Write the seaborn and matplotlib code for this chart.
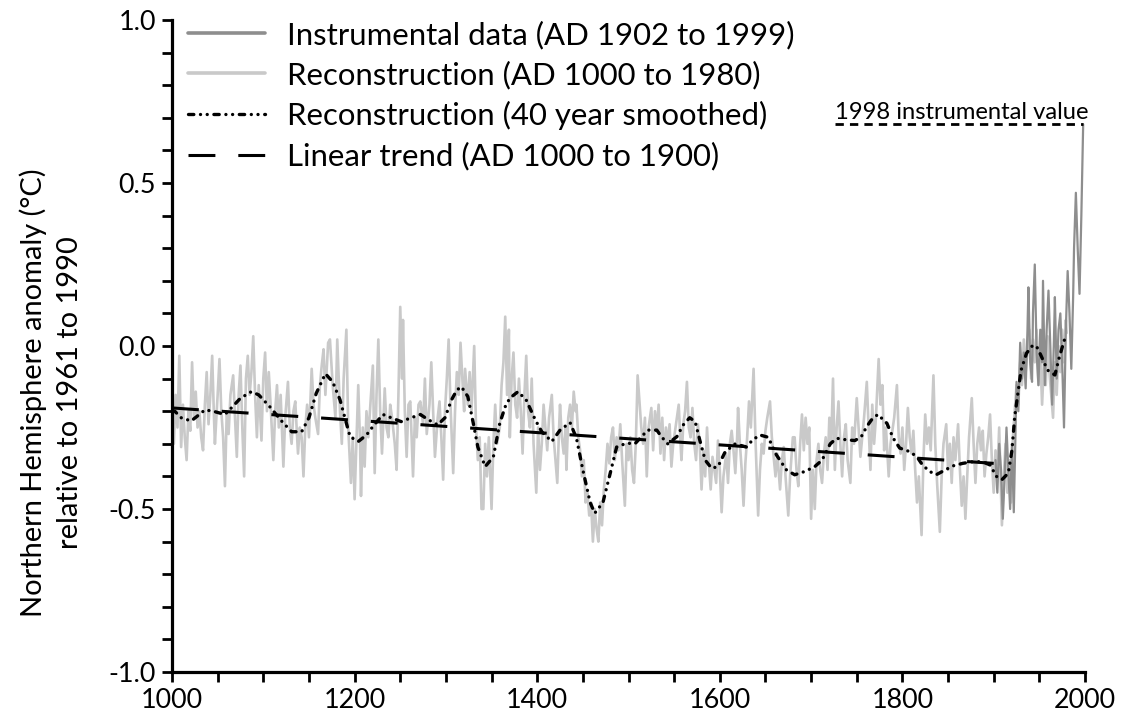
import matplotlib
matplotlib.use("Agg")
import matplotlib.pyplot as plt
import seaborn as sns
from matplotlib.ticker import MultipleLocator, FuncFormatter

# ---------------- data ----------------
years_a = [1000,1002,1004,1006,1008,1010,1012,1014,1016,1018,
           1020,1022,1024,1026,1028,1030,1032,1034,1036,1038,
           1040,1042,1044,1046,1047,1050,1052,1054,1056,1058,
           1060,1062,1064,1067,1069,1071,1073,1075,1077,1079,
           1081,1083,1085,1087,1089,1091,1093,1095,1098,1100,
           1102,1104,1106,1108,1111,1113,1115,1117,1119,1122,
           1124,1127,1129,1131,1133,1135,1138,1140,1142,1144,
           1146,1148,1150,1153,1155,1157,1160,1162,1164,1166,
           1168,1171]
vals_a = [-0.22,-0.30,-0.15,-0.25,-0.03,-0.31,-0.18,-0.28,-0.35,-0.20,
          -0.26,-0.05,-0.22,-0.14,-0.25,-0.20,-0.28,-0.32,-0.18,-0.08,
          -0.24,-0.15,-0.03,-0.22,-0.30,-0.15,-0.04,-0.20,-0.28,-0.43,
          -0.20,-0.27,-0.15,-0.09,-0.22,-0.34,-0.15,-0.06,-0.25,-0.40,
          -0.10,-0.03,-0.15,-0.08,0.03,-0.15,-0.28,-0.12,-0.29,-0.10,
          -0.02,-0.20,-0.08,-0.18,-0.35,-0.20,-0.12,-0.25,-0.15,-0.37,
          -0.22,-0.11,-0.25,-0.30,-0.20,-0.17,-0.33,-0.25,-0.28,-0.40,
          -0.25,-0.18,-0.28,-0.07,-0.18,-0.22,-0.27,-0.12,-0.06,-0.01,
          -0.15,0.01]

years_b = [1173,1176,1179,1181,1184,1186,1188,1191,1193,1196,
           1198,1200,1202,1204,1206,1207,1209,1211,1213,1215,
           1218,1220,1222,1224,1226,1228,1230,1233,1235,1237,
           1239,1241,1244,1246,1248,1250,1252,1253,1255,1257,
           1259,1261,1264,1266,1268,1270,1272,1275,1277,1279,
           1282,1284,1286,1288,1291,1293,1295,1297,1299,1301,
           1303,1305,1308,1310,1312,1314,1316,1318,1320,1321,
           1324,1326,1328,1331,1333,1335,1337,1339]
vals_b = [0.02,-0.12,-0.22,0.02,-0.20,-0.30,-0.10,0.05,-0.25,-0.42,
          -0.28,-0.47,-0.30,-0.12,-0.30,-0.46,-0.25,-0.37,-0.20,-0.28,
          -0.15,-0.06,-0.39,-0.15,0.02,-0.20,-0.33,-0.13,-0.25,-0.28,
          -0.18,-0.22,-0.30,-0.38,-0.15,0.12,-0.10,0.08,-0.20,-0.34,
          -0.18,-0.17,-0.40,-0.22,-0.28,-0.18,-0.17,-0.24,-0.10,-0.27,
          -0.18,-0.05,-0.20,-0.34,-0.22,-0.17,-0.28,-0.41,-0.20,-0.10,
          0.02,-0.18,-0.39,-0.20,-0.08,-0.15,0.01,-0.10,-0.20,-0.07,
          -0.18,-0.08,-0.20,0.00,-0.25,-0.35,-0.28,-0.50]

years_c = [1341,1343,1345,1347,1350,1352,1354,1356,1359,1361,
           1363,1365,1367,1369,1370,1372,1374,1376,1378,1380,
           1382,1384,1386,1388,1390,1392,1394,1396,1399,1401,
           1403,1405,1407,1409,1411,1413,1416,1418,1420,1422,
           1424,1425,1427,1429,1431,1432,1434,1436,1438,1440,
           1442,1443,1445,1447,1449,1451,1453,1455,1457,1459,
           1461,1463,1465,1467,1469,1471,1473,1475,1477,1479,
           1481,1483,1485,1487,1489,1491,1493,1496,1498,1500,
           1502,1504,1506,1508,1510]
vals_c = [-0.50,-0.30,-0.40,-0.28,-0.50,-0.30,-0.18,-0.30,-0.25,-0.12,
          -0.05,0.09,-0.15,0.05,-0.28,-0.10,-0.02,-0.18,-0.22,-0.10,
          -0.20,-0.33,-0.15,-0.03,-0.20,-0.25,-0.10,-0.30,-0.45,-0.25,
          -0.38,-0.30,-0.18,-0.25,-0.32,-0.22,-0.15,-0.28,-0.35,-0.42,
          -0.25,-0.18,-0.28,-0.33,-0.25,-0.38,-0.22,-0.18,-0.25,-0.14,
          -0.20,-0.18,-0.28,-0.32,-0.40,-0.35,-0.48,-0.45,-0.52,-0.48,
          -0.60,-0.50,-0.56,-0.60,-0.48,-0.55,-0.44,-0.38,-0.30,-0.36,
          -0.28,-0.25,-0.35,-0.28,-0.32,-0.24,-0.35,-0.49,-0.30,-0.35,
          -0.28,-0.38,-0.42,-0.30,-0.09]

years_d = [1514,1516,1518,1520,1522,1525,1527,1529,1531,1533,
           1535,1537,1539,1541,1543,1545,1547,1549,1551,1553,
           1555,1557,1558,1560,1562,1564,1566,1568,1570,1572,
           1574,1576,1578,1580,1582,1584,1586,1588,1590,1592,
           1594,1596,1598,1600,1602,1604,1607,1609,1611,1613,
           1615,1617,1619,1620,1622,1624,1626,1628,1630,1632,
           1634,1637,1639,1642,1644,1646,1648,1650,1652,1655,
           1657,1659,1661,1663,1666,1668,1670,1672,1675,1677,
           1680]
vals_d = [-0.25,-0.30,-0.22,-0.40,-0.25,-0.19,-0.32,-0.20,-0.26,-0.18,
          -0.33,-0.22,-0.35,-0.25,-0.30,-0.24,-0.37,-0.30,-0.26,-0.22,
          -0.18,-0.30,-0.35,-0.24,-0.20,-0.11,-0.25,-0.28,-0.19,-0.30,
          -0.35,-0.24,-0.30,-0.44,-0.32,-0.40,-0.25,-0.36,-0.44,-0.34,
          -0.38,-0.42,-0.29,-0.38,-0.51,-0.40,-0.33,-0.42,-0.30,-0.26,
          -0.32,-0.39,-0.28,-0.19,-0.30,-0.38,-0.49,-0.36,-0.28,-0.17,
          -0.25,-0.07,-0.28,-0.52,-0.38,-0.30,-0.33,-0.26,-0.22,-0.17,
          -0.28,-0.34,-0.40,-0.33,-0.44,-0.35,-0.31,-0.40,-0.52,-0.40,
          -0.28]

years_e = [1682,1684,1686,1688,1690,1692,1694,1696,1698,1700,
           1702,1704,1706,1708,1710,1712,1714,1716,1718,1720,
           1722,1724,1726,1728,1730,1732,1734,1736,1738,1740,
           1743,1745,1747,1750,1752,1754,1756,1758,1761,1763,
           1765,1767,1769,1771,1774,1776,1778,1780,1782,1785,
           1787,1789,1791,1794,1796,1798,1800,1802,1804,1806,
           1808,1810,1812,1814,1816,1818,1821,1823,1825,1827,
           1829,1831,1834,1836,1838,1841,1843,1845]
vals_e = [-0.28,-0.38,-0.43,-0.30,-0.21,-0.32,-0.22,-0.30,-0.25,-0.53,
          -0.38,-0.50,-0.35,-0.30,-0.38,-0.42,-0.33,-0.28,-0.38,-0.22,
          -0.30,-0.10,-0.38,-0.25,-0.17,-0.30,-0.40,-0.28,-0.24,-0.35,
          -0.42,-0.25,-0.30,-0.16,-0.25,-0.34,-0.28,-0.22,-0.11,-0.25,
          -0.38,-0.18,-0.30,-0.22,-0.04,-0.18,-0.12,-0.32,-0.25,-0.40,
          -0.30,-0.26,-0.22,-0.12,-0.28,-0.33,-0.25,-0.38,-0.30,-0.19,
          -0.28,-0.33,-0.26,-0.38,-0.48,-0.40,-0.58,-0.35,-0.21,-0.30,
          -0.25,-0.32,-0.09,-0.30,-0.42,-0.57,-0.40,-0.30]

years_f = [1848,1850,1852,1854,1856,1858,1861,1863,1865,1867,
           1869,1871,1873,1876,1878,1880,1882,1884,1886,1888,
           1890,1892,1894,1896,1898,1900,1902,1904,1906,1909,
           1911,1913,1915,1917,1919,1921,1923,1925,1927,1929,
           1931,1933,1935,1937,1939,1941,1943,1945,1947,1949,
           1951,1953,1955,1957,1959,1961,1963,1965,1967,1969,
           1971,1973,1975,1977,1979,1980]
vals_f = [-0.24,-0.38,-0.30,-0.42,-0.28,-0.35,-0.24,-0.38,-0.49,-0.40,
          -0.53,-0.40,-0.28,-0.16,-0.30,-0.42,-0.30,-0.25,-0.32,-0.26,
          -0.40,-0.33,-0.28,-0.21,-0.35,-0.45,-0.32,-0.40,-0.25,-0.55,
          -0.40,-0.30,-0.45,-0.35,-0.48,-0.28,-0.20,-0.12,-0.18,-0.05,
          -0.12,0.02,-0.08,-0.02,0.05,-0.10,0.02,-0.05,0.05,-0.12,
          -0.02,-0.18,-0.05,-0.12,0.03,-0.08,-0.15,-0.22,-0.05,-0.15,
          0.00,-0.08,0.05,-0.05,0.08,0.04]

instr_years = [1902,1904,1906,1908,1910,1912,1914,1916,1918,1920,
               1922,1924,1925,1927,1929,1931,1933,1935,1937,1938,
               1940,1942,1943,1945,1947,1949,1951,1953,1954,1956,
               1958,1960,1962,1964,1966,1967,1969,1971,1973,1975,
               1977,1979,1981,1983,1985,1987,1988,1990,1992,1994,
               1996,1998]
instr_vals = [-0.35,-0.45,-0.30,-0.38,-0.53,-0.40,-0.25,-0.38,-0.50,-0.30,
              -0.51,-0.25,-0.11,-0.20,0.01,-0.10,-0.02,-0.13,0.05,0.18,
              -0.05,-0.11,0.10,0.25,-0.02,-0.12,0.05,-0.05,0.20,-0.12,
              0.05,0.17,0.00,-0.18,0.02,0.15,-0.10,0.05,0.10,-0.05,
              -0.25,0.05,0.23,0.10,-0.07,0.15,0.30,0.47,0.30,0.16,
              0.40,0.68]

smooth_years = [1000,1003,1010,1021,1030,1036,1045,1058,1065,1075,
                1087,1095,1107,1120,1131,1142,1150,1158,1168,1176,
                1184,1195,1204,1213,1220,1231,1240,1251,1262,1272,
                1280,1291,1299,1306,1312,1317,1324,1330,1335,1343,
                1352,1359,1365,1370,1379,1388,1398,1405,1416,1425,
                1436,1443,1450,1458,1463,1472,1480,1487,1498,1507,
                1521,1531,1536,1543,1553,1560,1567,1573,1578,1584,
                1591,1598,1606,1617,1629,1636,1644,1653,1662,1673,
                1682,1693,1704,1712,1721,1728,1739,1748,1755,1761,
                1766,1773,1783,1790,1797,1808,1816,1822,1830,1837,
                1847,1855,1866,1877,1888,1896,1903,1909,1916,1920,
                1923,1927,1930,1936,1943,1948,1954,1959,1967,1972,
                1978,1980]
smooth_vals = [-0.20,-0.20,-0.22,-0.23,-0.21,-0.196,-0.20,-0.21,-0.19,-0.16,
               -0.14,-0.15,-0.186,-0.23,-0.263,-0.263,-0.22,-0.145,-0.085,-0.11,
               -0.165,-0.278,-0.293,-0.273,-0.247,-0.21,-0.22,-0.232,-0.22,-0.21,
               -0.225,-0.242,-0.22,-0.166,-0.135,-0.125,-0.155,-0.237,-0.31,-0.37,
               -0.34,-0.237,-0.186,-0.16,-0.14,-0.166,-0.227,-0.263,-0.293,-0.258,
               -0.235,-0.283,-0.38,-0.48,-0.513,-0.48,-0.39,-0.31,-0.298,-0.30,
               -0.258,-0.258,-0.278,-0.30,-0.278,-0.242,-0.22,-0.232,-0.288,-0.35,
               -0.375,-0.37,-0.324,-0.30,-0.31,-0.288,-0.273,-0.28,-0.334,-0.38,
               -0.395,-0.385,-0.37,-0.35,-0.30,-0.283,-0.288,-0.29,-0.278,-0.247,
               -0.227,-0.21,-0.237,-0.283,-0.313,-0.324,-0.34,-0.365,-0.385,-0.395,
               -0.38,-0.368,-0.36,-0.355,-0.355,-0.365,-0.40,-0.41,-0.39,-0.32,
               -0.217,-0.135,-0.074,-0.022,0.003,-0.006,-0.043,-0.074,-0.089,-0.033,
               0.024,0.03]

trend_years = [1000, 1900]
trend_vals = [-0.19, -0.36]

legend_labels = ["Instrumental data (AD 1902 to 1999)",
                 "Reconstruction (AD 1000 to 1980)",
                 "Reconstruction (40 year smoothed)",
                 "Linear trend (AD 1000 to 1900)"]
annot_text = "1998 instrumental value"
annot_start = 1726
ylabel_lines = ["Northern Hemisphere anomaly (\u00b0C)", "relative to 1961 to 1990"]
x_major = [1000, 1200, 1400, 1600, 1800, 2000]

recon_years = years_a + years_b + years_c + years_d + years_e + years_f
recon_vals = vals_a + vals_b + vals_c + vals_d + vals_e + vals_f

# ---------------- style ----------------
sns.set_theme(style="ticks", rc={
    "axes.edgecolor": "black", "text.color": "black", "axes.labelcolor": "black",
    "xtick.color": "black", "ytick.color": "black"})
plt.rcParams["font.family"] = ["Lato", "DejaVu Sans"]

W, H, DPI = 1125, 719, 100
fig = plt.figure(figsize=(W / DPI, H / DPI), dpi=DPI)
fig.patch.set_facecolor("white")
ax = fig.add_axes([172 / W, 1 - 672 / H, (1085 - 172) / W, (672 - 20) / H])


def fit_size(s, target_px):
    t = fig.text(0, 0, s, fontsize=10)
    r = fig.canvas.get_renderer()
    w = t.get_window_extent(renderer=r).width
    t.remove()
    return 10 * target_px / w


leg_fs = fit_size(legend_labels[0], 483) * 1.05
tick_fs = fit_size("1000", 58) * 1.07
ylab_fs = fit_size(ylabel_lines[0], 440) * 1.02
ann_fs = fit_size(annot_text, 246) * 1.03

C_RECON = "#c9c9c9"
C_INSTR = "#8e8e8e"

sns.lineplot(x=recon_years, y=recon_vals, ax=ax, color=C_RECON, lw=1.9,
             estimator=None, sort=False)
sns.lineplot(x=instr_years, y=instr_vals, ax=ax, color=C_INSTR, lw=1.6,
             estimator=None, sort=False)
sns.lineplot(x=trend_years, y=trend_vals, ax=ax, color="black", lw=2.2,
             linestyle=(0, (8.8, 7.5)), estimator=None, sort=False)
sns.lineplot(x=smooth_years, y=smooth_vals, ax=ax, color="black", lw=2.4,
             linestyle=(0, (1.6, 2.0, 0.01, 2.0, 0.01, 2.0)),
             dash_capstyle="round", estimator=None, sort=False)

lines = ax.get_lines()
h_recon, h_instr, h_trend, h_smooth = lines[0], lines[1], lines[2], lines[3]

# 1998 instrumental value marker line
v1998 = instr_vals[instr_years.index(1998)]
ax.hlines(v1998, annot_start, 1998, colors="black", lw=2.0,
          linestyles=(0, (3.0, 2.2)))
ax.annotate(annot_text, xy=(annot_start, v1998), xytext=(0, 4),
            textcoords="offset points", ha="left", va="baseline",
            fontsize=ann_fs)

# axes
ax.set_xlim(1000, 2000)
ax.set_ylim(-1.0, 1.0)
ax.set_xticks(x_major)
ax.xaxis.set_minor_locator(MultipleLocator(50))
ax.yaxis.set_major_locator(MultipleLocator(0.5))
ax.yaxis.set_minor_locator(MultipleLocator(0.1))
ax.yaxis.set_major_formatter(FuncFormatter(lambda v, p: f"{v:.1f}".replace("\u2212", "-")))
ax.tick_params(which="both", direction="out", length=7.5, width=2.0, color="black")
ax.tick_params(which="major", labelsize=tick_fs, pad=4)
sns.despine(ax=ax)
for s in ("left", "bottom"):
    ax.spines[s].set_linewidth(2.3)
    ax.spines[s].set_color("black")
ax.set_xlabel("")
ax.set_ylabel("")

fs_px = ylab_fs * DPI / 72
fig.text(51 / W, 1 - 393 / H, "\n".join(ylabel_lines), rotation=90,
         ha="center", va="center", multialignment="center",
         fontsize=ylab_fs, linespacing=42 / fs_px)

# legend
lfs_px = leg_fs * DPI / 72
leg = ax.legend([h_instr, h_recon, h_smooth, h_trend], legend_labels,
                loc="upper left", bbox_to_anchor=(188 / W, 1 - (35 - 0.47 * lfs_px) / H),
                bbox_transform=fig.transFigure, frameon=False, fontsize=leg_fs,
                handlelength=77 / lfs_px, handletextpad=22 / lfs_px,
                labelspacing=max(0.05, 41 / lfs_px - 0.94), borderpad=0,
                borderaxespad=0)
leg.get_lines()[0].set_linewidth(2.6)
leg.get_lines()[1].set_linewidth(2.6)

fig.savefig("out.png", dpi=DPI, facecolor="white")
